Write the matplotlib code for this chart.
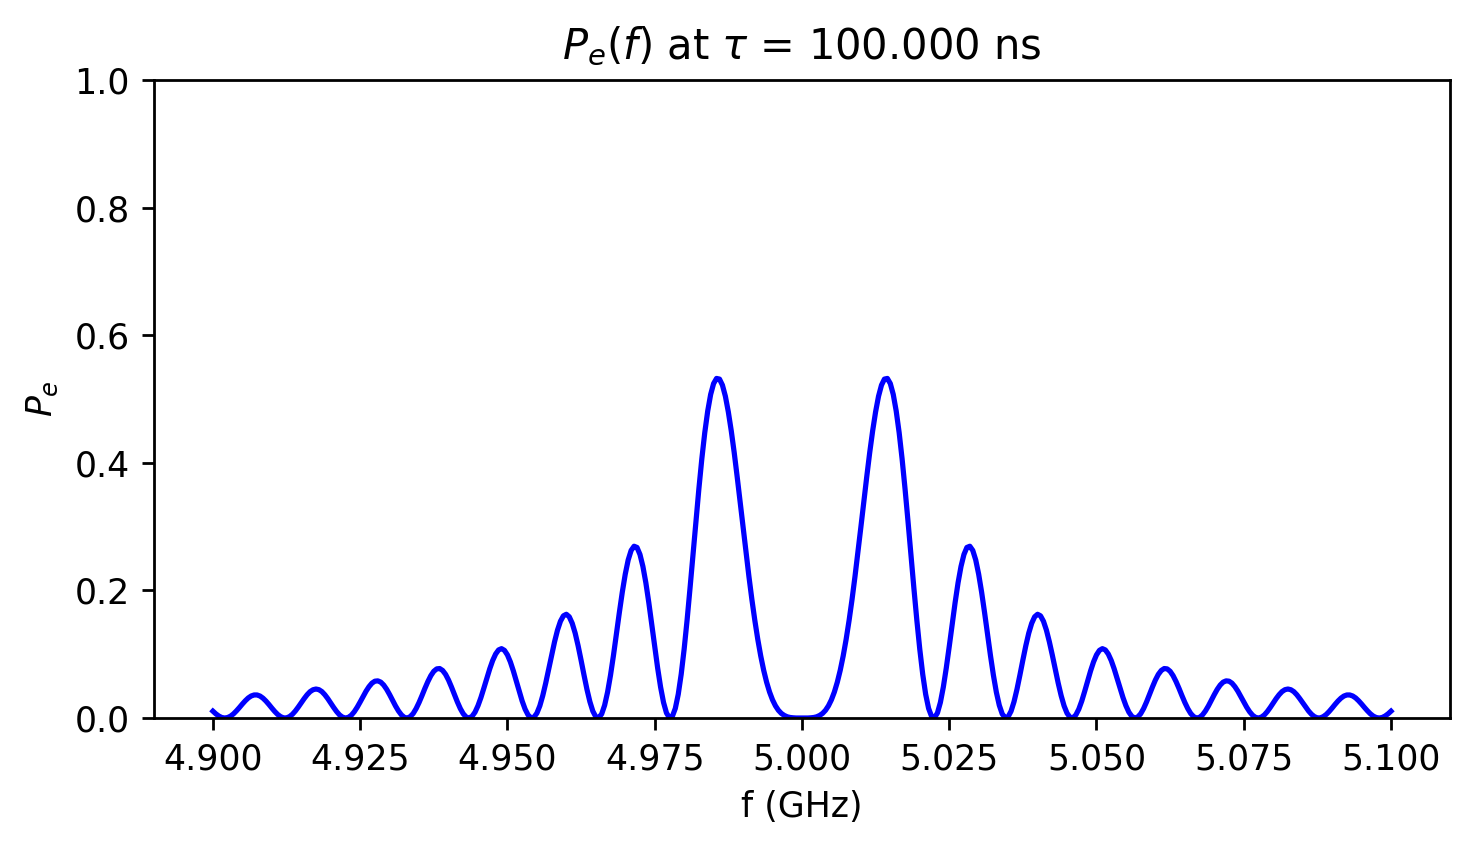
import numpy as np
import matplotlib
matplotlib.use("Agg")
from matplotlib import pyplot as plt

# frequency grid (GHz), 0.5 MHz steps
freq = np.linspace(4.900, 5.100, 401)

# excited-state probability, 4.900 -> 5.100 GHz
pe = [
    0.0107, 0.0065, 0.0031, 0.0008, 0.0000, 0.0007, 0.0029, 0.0065, 0.0112, 0.0164,
    0.0219, 0.0270, 0.0314, 0.0345, 0.0361, 0.0361, 0.0344, 0.0311, 0.0266, 0.0213,
    0.0156, 0.0102, 0.0055, 0.0021, 0.0002, 0.0002, 0.0021, 0.0058, 0.0110, 0.0172,
    0.0239, 0.0305, 0.0365, 0.0413, 0.0443, 0.0454, 0.0444, 0.0414, 0.0365, 0.0304,
    0.0235, 0.0165, 0.0101, 0.0048, 0.0014, 0.0000, 0.0010, 0.0043, 0.0098, 0.0169,
    0.0251, 0.0337, 0.0420, 0.0491, 0.0546, 0.0577, 0.0582, 0.0562, 0.0516, 0.0449,
    0.0367, 0.0278, 0.0189, 0.0111, 0.0049, 0.0010, 0.0000, 0.0021, 0.0070, 0.0147,
    0.0243, 0.0352, 0.0466, 0.0572, 0.0664, 0.0732, 0.0770, 0.0775, 0.0745, 0.0684,
    0.0595, 0.0486, 0.0369, 0.0252, 0.0148, 0.0066, 0.0015, 0.0000, 0.0026, 0.0091,
    0.0192, 0.0320, 0.0468, 0.0622, 0.0771, 0.0902, 0.1003, 0.1067, 0.1087, 0.1060,
    0.0989, 0.0879, 0.0739, 0.0581, 0.0419, 0.0266, 0.0139, 0.0048, 0.0003, 0.0012,
    0.0075, 0.0190, 0.0351, 0.0547, 0.0763, 0.0986, 0.1194, 0.1377, 0.1516, 0.1601,
    0.1626, 0.1586, 0.1484, 0.1330, 0.1132, 0.0907, 0.0673, 0.0449, 0.0255, 0.0107,
    0.0019, 0.0003, 0.0063, 0.0199, 0.0405, 0.0671, 0.0980, 0.1315, 0.1653, 0.1972,
    0.2253, 0.2477, 0.2626, 0.2692, 0.2673, 0.2563, 0.2375, 0.2119, 0.1809, 0.1469,
    0.1119, 0.0784, 0.0485, 0.0244, 0.0079, 0.0004, 0.0026, 0.0150, 0.0372, 0.0686,
    0.1079, 0.1535, 0.2036, 0.2560, 0.3086, 0.3591, 0.4061, 0.4472, 0.4811, 0.5071,
    0.5242, 0.5322, 0.5312, 0.5217, 0.5043, 0.4798, 0.4500, 0.4159, 0.3782, 0.3389,
    0.2990, 0.2596, 0.2216, 0.1857, 0.1529, 0.1233, 0.0973, 0.0749, 0.0561, 0.0407,
    0.0285, 0.0191, 0.0121, 0.0072, 0.0040, 0.0019, 0.0008, 0.0003, 0.0000, 0.0000,
    0.0000,
    0.0000, 0.0000, 0.0003, 0.0008, 0.0019, 0.0040, 0.0072, 0.0121, 0.0191, 0.0285,
    0.0407, 0.0561, 0.0749, 0.0973, 0.1233, 0.1529, 0.1857, 0.2216, 0.2596, 0.2990,
    0.3389, 0.3782, 0.4159, 0.4500, 0.4798, 0.5043, 0.5217, 0.5312, 0.5322, 0.5242,
    0.5071, 0.4811, 0.4472, 0.4061, 0.3591, 0.3086, 0.2560, 0.2036, 0.1535, 0.1079,
    0.0686, 0.0372, 0.0150, 0.0026, 0.0004, 0.0079, 0.0244, 0.0485, 0.0784, 0.1119,
    0.1469, 0.1809, 0.2119, 0.2375, 0.2563, 0.2673, 0.2692, 0.2626, 0.2477, 0.2253,
    0.1972, 0.1653, 0.1315, 0.0980, 0.0671, 0.0405, 0.0199, 0.0063, 0.0003, 0.0019,
    0.0107, 0.0255, 0.0449, 0.0673, 0.0907, 0.1132, 0.1330, 0.1484, 0.1586, 0.1626,
    0.1601, 0.1516, 0.1377, 0.1194, 0.0986, 0.0763, 0.0547, 0.0351, 0.0190, 0.0075,
    0.0012, 0.0003, 0.0048, 0.0139, 0.0266, 0.0419, 0.0581, 0.0739, 0.0879, 0.0989,
    0.1060, 0.1087, 0.1067, 0.1003, 0.0902, 0.0771, 0.0622, 0.0468, 0.0320, 0.0192,
    0.0091, 0.0026, 0.0000, 0.0015, 0.0066, 0.0148, 0.0252, 0.0369, 0.0486, 0.0595,
    0.0684, 0.0745, 0.0775, 0.0770, 0.0732, 0.0664, 0.0572, 0.0466, 0.0352, 0.0243,
    0.0147, 0.0070, 0.0021, 0.0000, 0.0010, 0.0049, 0.0111, 0.0189, 0.0278, 0.0367,
    0.0449, 0.0516, 0.0562, 0.0582, 0.0577, 0.0546, 0.0491, 0.0420, 0.0337, 0.0251,
    0.0169, 0.0098, 0.0043, 0.0010, 0.0000, 0.0014, 0.0048, 0.0101, 0.0165, 0.0235,
    0.0304, 0.0365, 0.0414, 0.0444, 0.0454, 0.0443, 0.0413, 0.0365, 0.0305, 0.0239,
    0.0172, 0.0110, 0.0058, 0.0021, 0.0002, 0.0002, 0.0021, 0.0055, 0.0102, 0.0156,
    0.0213, 0.0266, 0.0311, 0.0344, 0.0361, 0.0361, 0.0345, 0.0314, 0.0270, 0.0219,
    0.0164, 0.0112, 0.0065, 0.0029, 0.0007, 0.0000, 0.0008, 0.0031, 0.0065, 0.0107,
]

tau_ns = 100.0


def main():
    fig, ax = plt.subplots(figsize=(5.9, 3.4), dpi=250)
    ax.plot(freq, pe, color="blue", lw=1.5)
    ax.set_ylim(0, 1)
    ax.set_xlabel("f (GHz)")
    ax.set_ylabel("$P_e$")
    ax.set_title("$P_e(f)$ at $\\tau$ = {:.3f} ns".format(tau_ns))
    plt.subplots_adjust(left=0.1044, right=0.983, top=0.9059, bottom=0.1553)
    fig.savefig("out.png", dpi=250)


if __name__ == "__main__":
    main()
